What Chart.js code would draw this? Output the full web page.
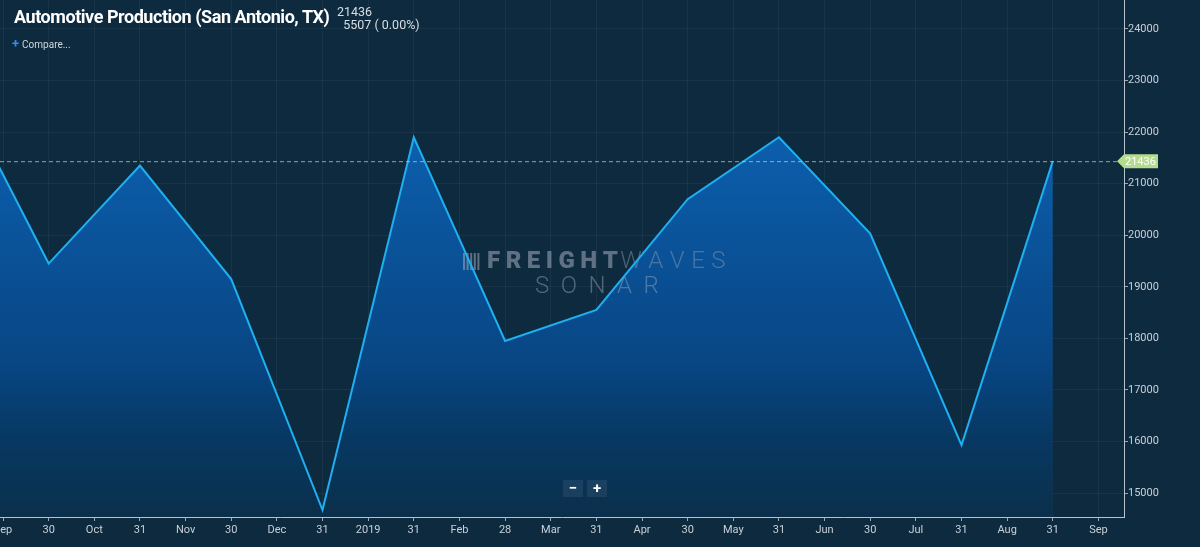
<!DOCTYPE html>
<html>
<head>
<meta charset="utf-8">
<script src="https://cdn.jsdelivr.net/npm/chart.js@4.4.0/dist/chart.umd.min.js"></script>
<style>
  html, body { margin: 0; padding: 0; background: #0e2a3e; overflow: hidden; }
  #wrap { position: relative; width: 1200px; height: 547px; font-family: Roboto, sans-serif; }
  #title { position: absolute; left: 14px; top: 6px; color: #fff; font-size: 18px; font-weight: bold; letter-spacing: -0.45px; }
  #last { position: absolute; left: 337px; top: 5px; color: #d8dee4; font-size: 12.5px; line-height: 13px; }
  #compare { position: absolute; left: 12px; top: 36px; color: #d0d6dc; font-size: 10px; }
  #compare b { color: #2b8ff0; font-size: 13px; margin-right: 3px; }
  .zbtn { position: absolute; top: 480px; width: 20px; height: 17px; background: rgba(255,255,255,0.07);
          color: #fff; font-size: 15px; font-weight: bold; text-align: center; line-height: 16px; }
</style>
</head>
<body>
<div id="wrap">
  <canvas id="chart" width="1200" height="547"></canvas>
  <div id="title">Automotive Production (San Antonio, TX)</div>
  <div id="last">21436<br>&nbsp;&nbsp;5507 ( 0.00%)</div>
  <div id="compare"><b>+</b>Compare...</div>
  <div class="zbtn" style="left:563px">&minus;</div>
  <div class="zbtn" style="left:587px">+</div>
</div>
<script>
// x tick labels, one per half month
var tickLabels = ['Sep','30','Oct','31','Nov','30','Dec','31','2019','31','Feb','28','Mar','31',
                  'Apr','30','May','31','Jun','30','Jul','31','Aug','31','Sep'];
// month-end positions on the tick index scale
var pointPos = [-1, 1, 3, 5, 7, 9, 11, 13, 15, 17, 19, 21, 23];
var production = [22900, 19450, 21350, 19150, 14670, 21900, 17950, 18550, 20700, 21900, 20030, 15930, 21436];
var yTicks = [15000, 16000, 17000, 18000, 19000, 20000, 21000, 22000, 23000, 24000];
var lastValue = 21436;

var points = [];
for (var i = 0, len = pointPos.length; i < len; i++) {
  points.push({x: pointPos[i], y: production[i]});
}

function spaced(ctx, text, x, y, gap) {
  for (var i = 0; i < text.length; i++) {
    ctx.fillText(text[i], x, y);
    x += ctx.measureText(text[i]).width + gap;
  }
  return x;
}

var overlay = {
  id: 'overlay',
  // runs after the filler has painted the area, before the line
  beforeDatasetDraw: function(chart) {
    var ctx = chart.ctx;
    ctx.save();
    ctx.textBaseline = 'middle';
    ctx.fillStyle = 'rgba(150,162,178,0.6)';
    var x0 = 487;
    ctx.font = '900 24px Roboto';
    x0 = spaced(ctx, 'FREIGHT', x0, 262, 5.5);
    ctx.fillStyle = 'rgba(150,162,178,0.45)';
    ctx.font = '300 24px Roboto';
    spaced(ctx, 'WAVES', x0 - 3, 262, 6.5);
    ctx.fillStyle = 'rgba(150,162,178,0.6)';
    for (var k = 0; k < 5; k++) ctx.fillRect(463 + k * 3.6, 253, 2, 17);
    ctx.fillStyle = 'rgba(150,162,178,0.5)';
    ctx.font = '300 24px Roboto';
    spaced(ctx, 'SONAR', 535, 287, 11.5);
    ctx.restore();
  },
  afterDraw: function(chart) {
    var ctx = chart.ctx, a = chart.chartArea;
    var y = chart.scales.y.getPixelForValue(lastValue);
    ctx.save();
    ctx.strokeStyle = 'rgba(180,215,160,0.75)';
    ctx.setLineDash([4, 3]);
    ctx.lineWidth = 1;
    ctx.beginPath();
    ctx.moveTo(a.left, y + 0.5);
    ctx.lineTo(a.right - 6, y + 0.5);
    ctx.stroke();
    ctx.setLineDash([]);
    ctx.fillStyle = '#b4dc8e';
    ctx.beginPath();
    ctx.moveTo(a.right - 7, y);
    ctx.lineTo(a.right, y - 7);
    ctx.lineTo(a.right + 34, y - 7);
    ctx.lineTo(a.right + 34, y + 7);
    ctx.lineTo(a.right, y + 7);
    ctx.closePath();
    ctx.fill();
    ctx.fillStyle = '#ffffff';
    ctx.font = '11px Roboto';
    ctx.textBaseline = 'middle';
    ctx.fillText(String(lastValue), a.right + 1, y + 1);
    ctx.restore();
  }
};

var ctx = document.getElementById('chart').getContext('2d');
var chart = new Chart(ctx, {
  type: 'line',
  data: {
    datasets: [{
      label: 'Automotive Production',
      data: points,
      borderColor: '#1fb0f2',
      borderWidth: 2,
      pointRadius: 0,
      tension: 0,
      fill: 'start',
      backgroundColor: function(c) {
        var a = c.chart.chartArea;
        if (!a) return '#0a4f95';
        var g = c.chart.ctx.createLinearGradient(0, a.top + 130, 0, a.bottom);
        g.addColorStop(0, '#0c5fae');
        g.addColorStop(0.6, '#084684');
        g.addColorStop(0.8, '#073862');
        g.addColorStop(1, '#0b2f4b');
        return g;
      }
    }]
  },
  options: {
    responsive: false,
    animation: false,
    layout: { padding: 0 },
    plugins: { legend: { display: false }, tooltip: { enabled: false } },
    scales: {
      x: {
        type: 'linear',
        min: -0.066,
        max: 24.56,
        afterBuildTicks: function(scale) {
          scale.ticks = tickLabels.map(function(l, i) { return {value: i}; });
        },
        afterFit: function(scale) {
          scale.height = 30;
          scale.paddingLeft = 0;
          scale.paddingRight = 0;
        },
        grid: { color: 'rgba(255,255,255,0.05)', tickColor: '#9aa6b2', tickLength: 4 },
        border: { display: true, color: '#b8c2cc', width: 1 },
        ticks: {
          autoSkip: false,
          maxRotation: 0,
          padding: 3,
          color: '#c8d0d8',
          font: { family: 'Roboto', size: 11 },
          callback: function(v) { return tickLabels[v]; }
        }
      },
      y: {
        position: 'right',
        min: 14535,
        max: 24562,
        afterBuildTicks: function(scale) {
          scale.ticks = yTicks.map(function(v) { return {value: v}; });
        },
        afterFit: function(scale) {
          scale.width = 76;
          scale.paddingTop = 0;
          scale.paddingBottom = 0;
        },
        grid: { color: 'rgba(255,255,255,0.05)', tickColor: '#9aa6b2', tickLength: 4 },
        border: { display: true, color: '#b8c2cc', width: 1 },
        ticks: {
          padding: 0,
          color: '#c8d0d8',
          font: { family: 'Roboto', size: 11 },
          callback: function(v) { return String(v); }
        }
      }
    }
  },
  plugins: [overlay]
});
</script>
</body>
</html>
